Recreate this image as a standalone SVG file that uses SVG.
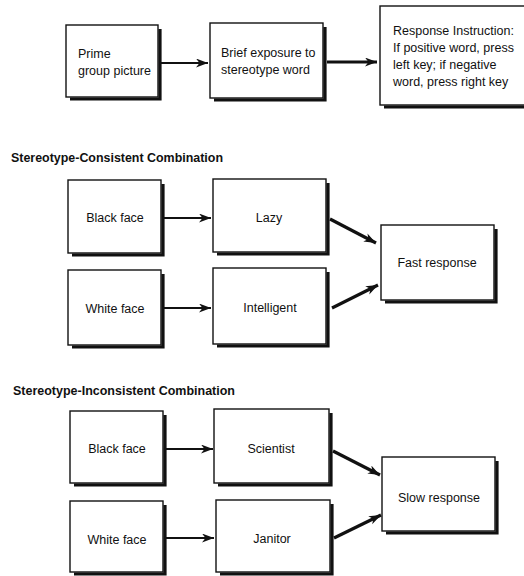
<svg xmlns="http://www.w3.org/2000/svg" width="524" height="576" viewBox="0 0 524 576">
  <style>
    .box { fill: #fff; stroke: #111; stroke-width: 1.4; }
    .shade { fill: none; stroke: #111; stroke-width: 3.2; stroke-linejoin: miter; }
    .lbl { font-family: "Liberation Sans", Arial, sans-serif; font-size: 12.5px; fill: #111; }
    .mid { text-anchor: middle; }
    .head { font-family: "Liberation Sans", Arial, sans-serif; font-size: 13.5px; font-weight: bold; fill: #111; }
    .link { fill: none; stroke: #111; stroke-width: 2.2; }
    .thick { stroke-width: 3.2; }
  </style>
  <defs>
    <marker id="arrow" markerUnits="userSpaceOnUse" markerWidth="14" markerHeight="10" refX="12" refY="4.5" orient="auto">
      <path d="M0,0 L12,4.5 L0,9 L3.5,4.5 Z" fill="#111"/>
    </marker>
  </defs>
  <rect width="524" height="576" fill="#fff"/>

  <!-- procedure row -->
  <g id="prime">
    <rect class="box" x="66" y="25" width="92" height="72"/>
    <path class="shade" d="M160,29 V99 H70"/>
    <text class="lbl" x="78" y="58">Prime</text>
    <text class="lbl" x="78" y="75">group picture</text>
  </g>
  <g id="exposure">
    <rect class="box" x="210" y="23" width="113" height="75"/>
    <path class="shade" d="M325,27 V100 H214"/>
    <text class="lbl" x="221" y="57">Brief exposure to</text>
    <text class="lbl" x="221" y="74">stereotype word</text>
  </g>
  <g id="instruction">
    <rect class="box" x="380" y="6" width="160" height="99"/>
    <path class="shade" d="M384,107 H540"/>
    <text class="lbl" x="393" y="35">Response Instruction:</text>
    <text class="lbl" x="393" y="52">If positive word, press</text>
    <text class="lbl" x="393" y="69">left key; if negative</text>
    <text class="lbl" x="393" y="86">word, press right key</text>
  </g>

  <!-- consistent combination -->
  <text id="heading-consistent" class="head" x="11" y="162" textLength="212" lengthAdjust="spacingAndGlyphs">Stereotype-Consistent Combination</text>
  <g id="black-face-1">
    <rect class="box" x="68" y="180" width="93" height="73"/>
    <path class="shade" d="M163,184 V255 H72"/>
    <text class="lbl mid" x="115" y="222">Black face</text>
  </g>
  <g id="lazy">
    <rect class="box" x="213" y="179" width="113" height="73"/>
    <path class="shade" d="M328,183 V254 H217"/>
    <text class="lbl mid" x="269" y="222">Lazy</text>
  </g>
  <g id="white-face-1">
    <rect class="box" x="68" y="270" width="93" height="75"/>
    <path class="shade" d="M163,274 V347 H72"/>
    <text class="lbl mid" x="115" y="313">White face</text>
  </g>
  <g id="intelligent">
    <rect class="box" x="213" y="268" width="113" height="76"/>
    <path class="shade" d="M328,272 V346 H217"/>
    <text class="lbl mid" x="270" y="312">Intelligent</text>
  </g>
  <g id="fast-response">
    <rect class="box" x="381" y="225" width="113" height="75"/>
    <path class="shade" d="M496,229 V302 H385"/>
    <text class="lbl mid" x="437" y="267">Fast response</text>
  </g>

  <!-- inconsistent combination -->
  <text id="heading-inconsistent" class="head" x="13" y="395" textLength="222" lengthAdjust="spacingAndGlyphs">Stereotype-Inconsistent Combination</text>
  <g id="black-face-2">
    <rect class="box" x="70" y="411" width="93" height="72"/>
    <path class="shade" d="M165,415 V485 H74"/>
    <text class="lbl mid" x="117" y="453">Black face</text>
  </g>
  <g id="scientist">
    <rect class="box" x="214" y="409" width="115" height="74"/>
    <path class="shade" d="M331,413 V485 H218"/>
    <text class="lbl mid" x="271" y="453">Scientist</text>
  </g>
  <g id="white-face-2">
    <rect class="box" x="70" y="501" width="93" height="71"/>
    <path class="shade" d="M165,505 V574 H74"/>
    <text class="lbl mid" x="117" y="544">White face</text>
  </g>
  <g id="janitor">
    <rect class="box" x="216" y="500" width="114" height="72"/>
    <path class="shade" d="M332,504 V574 H220"/>
    <text class="lbl mid" x="272" y="543">Janitor</text>
  </g>
  <g id="slow-response">
    <rect class="box" x="382" y="457" width="113" height="74"/>
    <path class="shade" d="M497,461 V533 H386"/>
    <text class="lbl mid" x="439" y="502">Slow response</text>
  </g>

  <!-- connectors -->
  <g id="connectors">
    <line class="link" x1="161" y1="63" x2="208" y2="63" marker-end="url(#arrow)"/>
    <line class="link thick" x1="327" y1="62" x2="377" y2="62" marker-end="url(#arrow)"/>
    <line class="link" x1="164" y1="218" x2="211" y2="218" marker-end="url(#arrow)"/>
    <line class="link" x1="164" y1="308" x2="211" y2="308" marker-end="url(#arrow)"/>
    <line class="link thick" x1="330" y1="219" x2="376" y2="243" marker-end="url(#arrow)"/>
    <line class="link thick" x1="332" y1="308" x2="378" y2="285" marker-end="url(#arrow)"/>
    <line class="link" x1="166" y1="449" x2="213" y2="449" marker-end="url(#arrow)"/>
    <line class="link" x1="166" y1="538" x2="214" y2="538" marker-end="url(#arrow)"/>
    <line class="link thick" x1="333" y1="451" x2="380" y2="475" marker-end="url(#arrow)"/>
    <line class="link thick" x1="334" y1="538" x2="381" y2="515" marker-end="url(#arrow)"/>
  </g>
</svg>
